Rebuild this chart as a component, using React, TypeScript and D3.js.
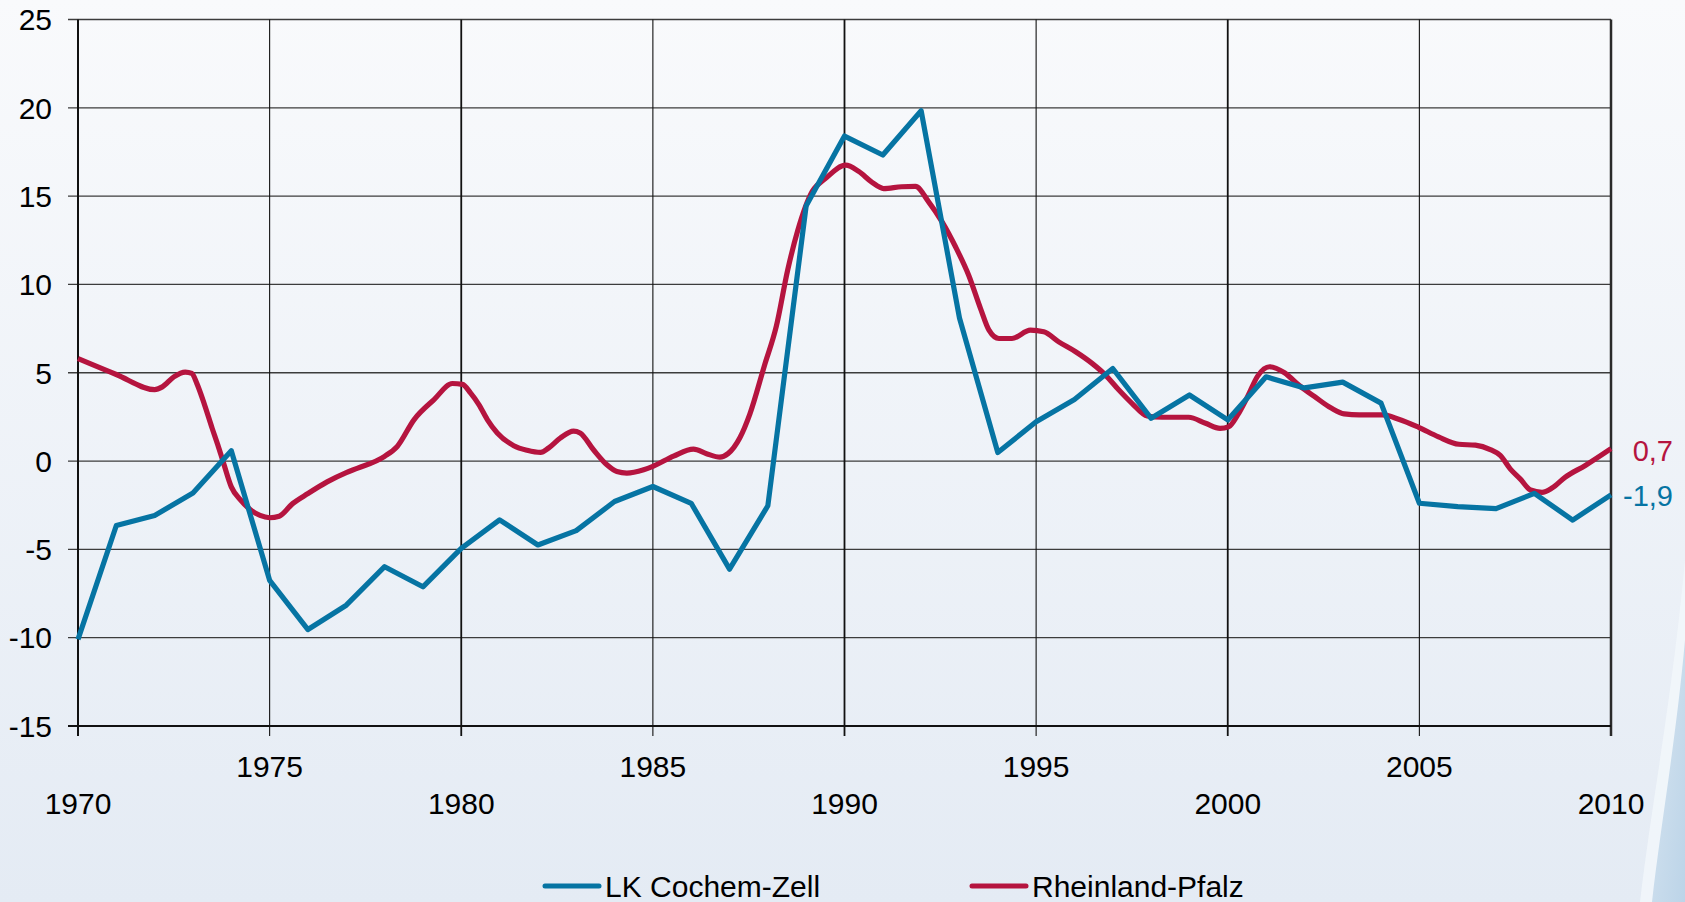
import { useEffect, useRef } from 'react';
import * as d3 from 'd3';

// LK Cochem-Zell: one value per year 1970..2010
const yearsCochem = [
  1970, 1971, 1972, 1973, 1974, 1975, 1976, 1977, 1978, 1979,
  1980, 1981, 1982, 1983, 1984, 1985, 1986, 1987, 1988, 1989,
  1990, 1991, 1992, 1993, 1994, 1995, 1996, 1997, 1998, 1999,
  2000, 2001, 2002, 2003, 2004, 2005, 2006, 2007, 2008, 2009, 2010,
];
const valuesCochem = [
  -10.1, -3.65, -3.08, -1.81, 0.59, -6.75, -9.54, -8.16, -5.98, -7.12,
  -4.94, -3.33, -4.75, -3.94, -2.29, -1.44, -2.39, -6.12, -2.53, 14.46,
  18.4, 17.33, 19.83, 8.1, 0.48, 2.23, 3.49, 5.24, 2.42, 3.74,
  2.33, 4.77, 4.14, 4.47, 3.28, -2.39, -2.58, -2.69, -1.83, -3.34, -1.91,
];

// Rheinland-Pfalz: denser (sub-annual) readings
const timesRlp = [
  1970.0, 1971.0, 1972.0, 1972.2, 1972.5, 1972.8, 1972.97, 1973.1, 1973.3, 1973.5,
  1973.65, 1973.8, 1974.0, 1974.25, 1974.5, 1974.75, 1975.0, 1975.25, 1975.6, 1976.0,
  1976.5, 1977.0, 1977.3, 1978.0, 1978.33, 1978.77, 1979.29, 1979.77, 1980.03, 1980.24,
  1980.46, 1980.68, 1980.94, 1981.37, 1981.72, 1982.07, 1982.28, 1982.59, 1982.93, 1983.1,
  1983.45, 1983.8, 1984.06, 1984.32, 1984.76, 1985.0, 1985.54, 1986.06, 1986.4, 1986.75,
  1986.96, 1987.27, 1987.53, 1987.91, 1988.22, 1988.52, 1988.78, 1989.16, 1989.5, 1990.03,
  1990.37, 1990.72, 1991.02, 1991.49, 1991.85, 1992.2, 1992.55, 1992.9, 1993.24, 1993.55,
  1993.77, 1994.03, 1994.37, 1994.85, 1995.2, 1995.59, 1996.03, 1996.46, 1996.81, 1997.16,
  1997.5, 1997.9, 1998.29, 1998.98, 1999.42, 1999.8, 2000.03, 2000.26, 2000.52, 2000.78,
  2001.09, 2001.48, 2001.87, 2002.26, 2002.7, 2003.04, 2003.43, 2004.04, 2004.46, 2004.98,
  2005.5, 2006.03, 2006.46, 2006.85, 2007.11, 2007.37, 2007.63, 2007.9, 2008.2, 2008.46,
  2008.8, 2009.33, 2010.0,
];
const valuesRlp = [
  5.8, 4.9, 4.05, 4.2, 4.77, 5.04, 4.96, 4.4, 3.2, 1.86,
  0.9, -0.13, -1.46, -2.22, -2.76, -3.08, -3.21, -3.12, -2.41, -1.84,
  -1.18, -0.65, -0.4, 0.27, 0.83, 2.35, 3.48, 4.39, 4.34, 3.86,
  3.2, 2.35, 1.59, 0.87, 0.61, 0.49, 0.74, 1.31, 1.69, 1.59,
  0.64, -0.21, -0.59, -0.68, -0.49, -0.3, 0.28, 0.68, 0.42, 0.22,
  0.42, 1.32, 2.66, 5.4, 7.62, 10.84, 13.05, 15.27, 15.99, 16.75,
  16.4, 15.78, 15.43, 15.53, 15.55, 14.66, 13.53, 12.12, 10.52, 8.63,
  7.41, 6.94, 6.94, 7.41, 7.32, 6.75, 6.19, 5.53, 4.87, 4.02,
  3.27, 2.55, 2.48, 2.48, 2.14, 1.85, 1.95, 2.61, 3.66, 4.81,
  5.34, 5.0, 4.27, 3.66, 3.0, 2.67, 2.61, 2.61, 2.37, 1.91,
  1.37, 0.95, 0.9, 0.65, 0.32, -0.44, -1.01, -1.64, -1.77, -1.53,
  -0.92, -0.25, 0.7,
];

const yTicks = [-15, -10, -5, 0, 5, 10, 15, 20, 25];
const xTicks = [1970, 1975, 1980, 1985, 1990, 1995, 2000, 2005, 2010];
const seriesNames = ['LK Cochem-Zell', 'Rheinland-Pfalz'];
const endLabels = ['-1,9', '0,7'];

const BLUE = '#0674a3';
const RED = '#b5143f';
const FONT = '"Liberation Sans", Arial, sans-serif';

export default function App() {
  const svgRef = useRef(null);

  useEffect(() => {
    const width = 1685;
    const height = 902;
    const svg = d3.select(svgRef.current);
    svg.selectAll('*').remove();
    svg.attr('width', width).attr('height', height);

    // background gradient
    const defs = svg.append('defs');
    const bg = defs.append('linearGradient').attr('id', 'bg').attr('x1', 0).attr('y1', 0).attr('x2', 0).attr('y2', 1);
    bg.append('stop').attr('offset', '0%').attr('stop-color', '#f9fafc');
    bg.append('stop').attr('offset', '100%').attr('stop-color', '#e4ebf4');
    const sw = defs.append('linearGradient').attr('id', 'swoosh').attr('x1', 0).attr('y1', 0).attr('x2', 1).attr('y2', 1);
    sw.append('stop').attr('offset', '0%').attr('stop-color', '#d6e4f0');
    sw.append('stop').attr('offset', '100%').attr('stop-color', '#bcd4e8');

    svg.append('rect').attr('width', width).attr('height', height).attr('fill', 'url(#bg)');
    svg.append('path')
      .attr('d', 'M1685,560 C1672,700 1652,800 1640,902 L1685,902 Z')
      .attr('fill', '#f3f7fb')
      .attr('opacity', 0.8);
    svg.append('path')
      .attr('d', 'M1685,640 C1676,740 1660,830 1652,902 L1685,902 Z')
      .attr('fill', 'url(#swoosh)');

    const x = d3.scaleLinear().domain([1970, 2010]).range([78, 1611]);
    const y = d3.scaleLinear().domain([-15, 25]).range([726, 19.5]);

    const g = svg.append('g');

    // horizontal grid lines + left ticks
    g.selectAll('.hgrid')
      .data(yTicks.filter(t => t > -15))
      .enter()
      .append('line')
      .attr('x1', 68)
      .attr('x2', x(2010))
      .attr('y1', d => y(d))
      .attr('y2', d => y(d))
      .attr('stroke', '#3c3c3c')
      .attr('stroke-width', 1.3);

    // vertical grid lines (extend below axis as ticks)
    g.selectAll('.vgrid')
      .data(xTicks)
      .enter()
      .append('line')
      .attr('x1', d => x(d))
      .attr('x2', d => x(d))
      .attr('y1', y(25))
      .attr('y2', y(-15) + 10)
      .attr('stroke', d => (d === 2010 ? '#2a2a2a' : '#111'))
      .attr('stroke-width', d => (d === 2010 ? 2.5 : d === 1970 ? 2 : d % 10 === 0 ? 1.8 : 1.1));

    // x axis
    g.append('line')
      .attr('x1', 68)
      .attr('x2', x(2010))
      .attr('y1', y(-15))
      .attr('y2', y(-15))
      .attr('stroke', '#111')
      .attr('stroke-width', 2);

    // y labels
    g.selectAll('.ylab')
      .data(yTicks)
      .enter()
      .append('text')
      .attr('x', 52)
      .attr('y', d => y(d))
      .attr('dy', '0.36em')
      .attr('text-anchor', 'end')
      .attr('font-family', FONT)
      .attr('font-size', 30)
      .attr('fill', '#000')
      .text(d => d);

    // x labels, staggered in two rows
    g.selectAll('.xlab')
      .data(xTicks)
      .enter()
      .append('text')
      .attr('x', d => x(d))
      .attr('y', d => (d % 10 === 0 ? 814 : 776.5))
      .attr('text-anchor', 'middle')
      .attr('font-family', FONT)
      .attr('font-size', 30)
      .attr('fill', '#000')
      .text(d => d);

    const line = d3.line().curve(d3.curveLinear);
    const smooth = d3.line().curve(d3.curveMonotoneX);

    const rlpPts = timesRlp.map((t, i) => [x(t), y(valuesRlp[i])]);
    const cochemPts = yearsCochem.map((t, i) => [x(t), y(valuesCochem[i])]);

    g.append('path')
      .attr('d', smooth(rlpPts))
      .attr('fill', 'none')
      .attr('stroke', RED)
      .attr('stroke-width', 5.2)
      .attr('stroke-linejoin', 'round');

    g.append('path')
      .attr('d', line(cochemPts))
      .attr('fill', 'none')
      .attr('stroke', BLUE)
      .attr('stroke-width', 5.2)
      .attr('stroke-linejoin', 'round');

    // end labels
    const lastC = valuesCochem[valuesCochem.length - 1];
    const lastR = valuesRlp[valuesRlp.length - 1];
    g.append('text')
      .attr('x', 1673)
      .attr('y', y(lastC) + 1)
      .attr('dy', '0.36em')
      .attr('text-anchor', 'end')
      .attr('font-family', FONT)
      .attr('font-size', 29)
      .attr('fill', BLUE)
      .text(endLabels[0]);
    g.append('text')
      .attr('x', 1673)
      .attr('y', y(lastR) + 2)
      .attr('dy', '0.36em')
      .attr('text-anchor', 'end')
      .attr('font-family', FONT)
      .attr('font-size', 29)
      .attr('fill', RED)
      .text(endLabels[1]);

    // legend
    const legend = [
      { name: seriesNames[0], color: BLUE, x0: 545 },
      { name: seriesNames[1], color: RED, x0: 972 },
    ];
    const lg = g.selectAll('.legend').data(legend).enter().append('g');
    lg.append('line')
      .attr('x1', d => d.x0)
      .attr('x2', d => d.x0 + 54)
      .attr('y1', 886)
      .attr('y2', 886)
      .attr('stroke', d => d.color)
      .attr('stroke-width', 5)
      .attr('stroke-linecap', 'round');
    lg.append('text')
      .attr('x', d => d.x0 + 60)
      .attr('y', 897)
      .attr('font-family', FONT)
      .attr('font-size', 30)
      .attr('fill', '#000')
      .text(d => d.name);
  }, []);

  return (
    <div style={{ position: 'absolute', left: 0, top: 0 }}>
      <svg ref={svgRef} style={{ display: 'block' }}></svg>
    </div>
  );
}
